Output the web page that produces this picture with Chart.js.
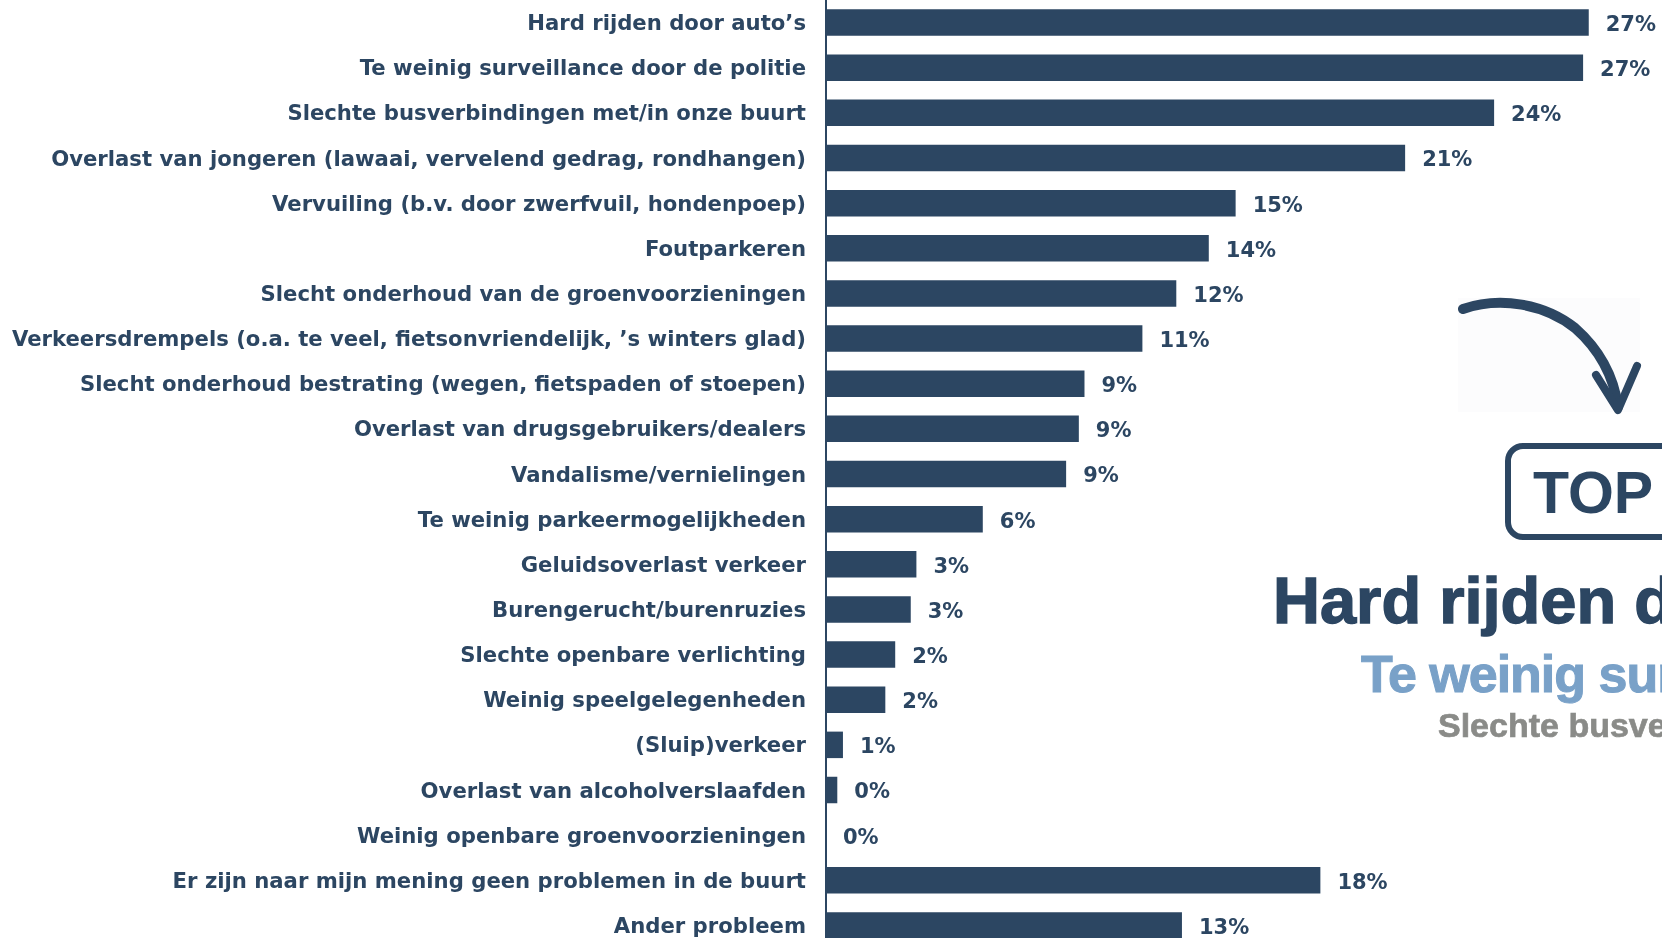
<!DOCTYPE html>
<html>
<head>
<meta charset="utf-8">
<script src="https://cdn.jsdelivr.net/npm/chart.js@4.4.1/dist/chart.umd.min.js"></script>
<style>
  html, body { margin: 0; padding: 0; background: #ffffff; overflow: hidden; }
  #wrap { position: relative; width: 1662px; height: 938px; overflow: hidden; background: #fff; }
  #chart { position: absolute; left: 0; top: 0; }
  .ov { position: absolute; white-space: nowrap; font-family: "Liberation Sans", Arial, sans-serif; font-weight: bold; }
  #topbox { position: absolute; left: 1505px; top: 443px; width: 320px; height: 85px; border: 6px solid #2c4662; border-radius: 18px; }
  #toptxt { left: 1533px; top: 464px; font-size: 59px; line-height: 59px; color: #2c4662; }
  #t1 { left: 1273px; top: 568px; font-size: 65px; line-height: 65px; color: #2c4662; -webkit-text-stroke: 1.4px #2c4662; }
  #t2 { left: 1361px; top: 648px; font-size: 52px; line-height: 52px; letter-spacing: -1px; color: #79a1c8; -webkit-text-stroke: 1px #79a1c8; }
  #t3 { left: 1438px; top: 708px; font-size: 34px; line-height: 34px; color: #8a8b88; -webkit-text-stroke: 0.7px #8a8b88; }
  #arrow { position: absolute; left: 0; top: 0; }
</style>
</head>
<body>
<div id="wrap">
  <canvas id="chart" width="1662" height="948"></canvas>
  <svg id="arrow" width="1662" height="938">
    <rect x="1458" y="298" width="182" height="114" fill="#fcfcfd"></rect>
    <path d="M1463,309 C1500,296 1545,304 1575,328 C1600,350 1614,378 1618,407" fill="none" stroke="#2c4662" stroke-width="10" stroke-linecap="round"></path>
    <path d="M1596,375 L1618,410 L1637,366" fill="none" stroke="#2c4662" stroke-width="8" stroke-linecap="round" stroke-linejoin="round"></path>
  </svg>
  <div id="topbox"></div>
  <div class="ov" id="toptxt">TOP 3</div>
  <div class="ov" id="t1">Hard rijden door auto’s</div>
  <div class="ov" id="t2">Te weinig surveillance door de politie</div>
  <div class="ov" id="t3">Slechte busverbindingen met/in onze buurt</div>
</div>
<script>
const categories = [
  "Hard rijden door auto’s",
  "Te weinig surveillance door de politie",
  "Slechte busverbindingen met/in onze buurt",
  "Overlast van jongeren (lawaai, vervelend gedrag, rondhangen)",
  "Vervuiling (b.v. door zwerfvuil, hondenpoep)",
  "Foutparkeren",
  "Slecht onderhoud van de groenvoorzieningen",
  "Verkeersdrempels (o.a. te veel, fietsonvriendelijk, ’s winters glad)",
  "Slecht onderhoud bestrating (wegen, fietspaden of stoepen)",
  "Overlast van drugsgebruikers/dealers",
  "Vandalisme/vernielingen",
  "Te weinig parkeermogelijkheden",
  "Geluidsoverlast verkeer",
  "Burengerucht/burenruzies",
  "Slechte openbare verlichting",
  "Weinig speelgelegenheden",
  "(Sluip)verkeer",
  "Overlast van alcoholverslaafden",
  "Weinig openbare groenvoorzieningen",
  "Er zijn naar mijn mening geen problemen in de buurt",
  "Ander probleem"
];
const values = [27.0, 26.8, 23.65, 20.5, 14.5, 13.55, 12.4, 11.2, 9.15, 8.95, 8.5, 5.55, 3.2, 3.0, 2.45, 2.1, 0.6, 0.4, 0, 17.5, 12.6];
const xMin = 0;
const xMax = 28;

const NAVY = '#2c4662';

const valueLabels = {
  id: 'valueLabels',
  afterDatasetsDraw(chart) {
    const ctx = chart.ctx;
    const meta = chart.getDatasetMeta(0);
    ctx.save();
    ctx.fillStyle = NAVY;
    ctx.font = 'bold 21px "DejaVu Sans"';
    ctx.textAlign = 'left';
    ctx.textBaseline = 'middle';
    meta.data.forEach((bar, i) => {
      const v = chart.data.datasets[0].data[i];
      ctx.fillText(Math.round(v) + '%', bar.x + 17, bar.y + 3);
    });
    ctx.restore();
  }
};

new Chart(document.getElementById('chart'), {
  type: 'bar',
  data: {
    labels: categories,
    datasets: [{
      data: values,
      backgroundColor: NAVY,
      borderWidth: 0,
      barPercentage: 0.587,
      categoryPercentage: 1.0
    }]
  },
  options: {
    indexAxis: 'y',
    responsive: false,
    devicePixelRatio: 1,
    animation: false,
    layout: { padding: { left: 0, right: 45, top: 0, bottom: 0 } },
    plugins: { legend: { display: false }, tooltip: { enabled: false } },
    scales: {
      x: { display: false, min: xMin, max: xMax },
      y: {
        grid: { display: false },
        border: { display: true, color: NAVY, width: 2 },
        ticks: {
          autoSkip: false,
          color: NAVY,
          padding: 12,
          labelOffset: 2,
          font: { family: 'DejaVu Sans', weight: 'bold', size: 21.2 }
        },
        afterFit(scale) {
          scale.width = 826;
          scale.paddingTop = 0;
          scale.paddingBottom = 0;
        }
      }
    }
  },
  plugins: [valueLabels]
});
</script>
</body>
</html>
